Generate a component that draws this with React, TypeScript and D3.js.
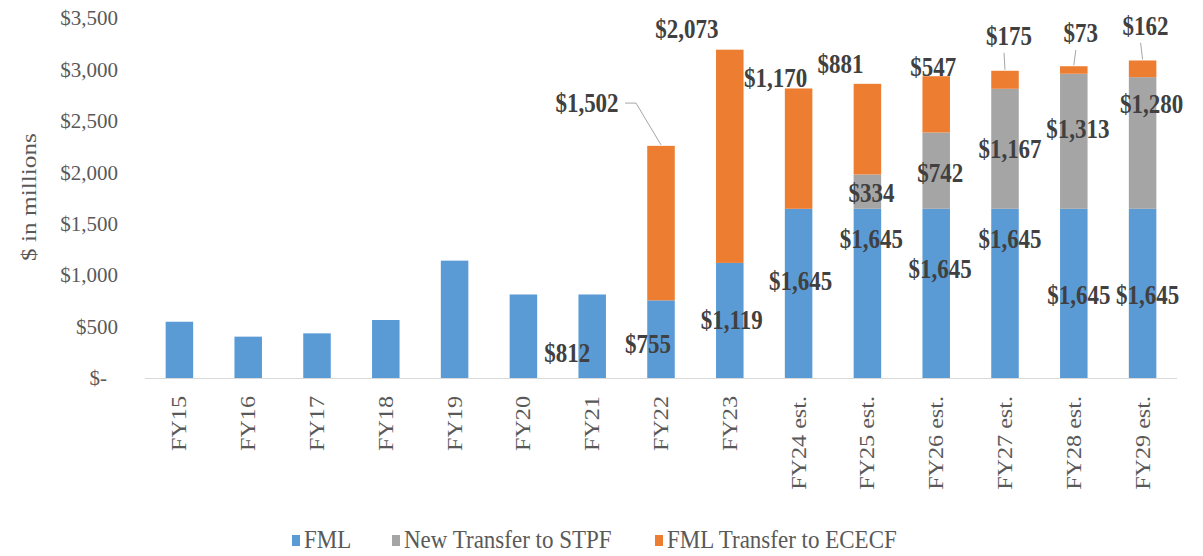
import React from "react";
import * as d3 from "d3";

// fiscal years on the x axis
const years = ["FY15", "FY16", "FY17", "FY18", "FY19", "FY20", "FY21", "FY22", "FY23",
  "FY24 est.", "FY25 est.", "FY26 est.", "FY27 est.", "FY28 est.", "FY29 est."];

// $ in millions
const fml = [547, 402, 434, 564, 1141, 812, 812, 755, 1119, 1645, 1645, 1645, 1645, 1645, 1645];
const stpf = [0, 0, 0, 0, 0, 0, 0, 0, 0, 0, 334, 742, 1167, 1313, 1280];
const ececf = [0, 0, 0, 0, 0, 0, 0, 1502, 2073, 1170, 881, 547, 175, 73, 162];

const yTicks = [0, 500, 1000, 1500, 2000, 2500, 3000, 3500];
const seriesNames = ["FML", "New Transfer to STPF", "FML Transfer to ECECF"];

// where the data labels were dragged to (px from the segment middle), null = no label
const fmlLabelPos = [null, null, null, null, null, null, [-25, 26], [-13, 14], [2, 9], [2, -3], [4, -45], [4, -15], [5, -45], [5, 11], [5, 11]];
const stpfLabelPos = [null, null, null, null, null, null, null, null, null, null, [4, 10], [4, 11], [5, 9], [4, -3], [9, -30]];
const ececfLabelPos = [null, null, null, null, null, null, null, [-74, -111], [-43, -118], [-23, -62], [-27, -56], [-3, -28], [4, -35], [7, -28], [3, -34]];
// leader lines: "elbow" from the side, "down" from under the label
const ececfLeader = [null, null, null, null, null, null, null, "elbow", null, null, null, null, "down", "down", "down"];

const colors = ["#5B9BD5", "#A5A5A5", "#ED7D31"];
const W = 1203, H = 556;
const FONT = "'Liberation Serif', 'Times New Roman', serif";
const STRETCH = "scale(1,1.15)";

const fmtMoney = (v: number) => (v === 0 ? "$-" : "$" + d3.format(",")(v));

export default function App() {
  const x = d3.scaleBand<string>().domain(years).range([145, 1177]).paddingInner(0.6).paddingOuter(0.3);
  const y = d3.scaleLinear().domain([0, 3500]).range([378, 18]);

  const rows = years.map((yr, i) => ({ yr, fml: fml[i], stpf: stpf[i], ececf: ececf[i] }));
  const stack = d3.stack<any>().keys(["fml", "stpf", "ececf"]);
  const layers = stack(rows);
  const labelPos = [fmlLabelPos, stpfLabelPos, ececfLabelPos];
  const bw = x.bandwidth();

  const legendX = [292, 392, 655];

  return (
    <svg width={W} height={H} style={{ position: "absolute", left: 0, top: 0, background: "#fff" }} fontFamily={FONT}>
      {/* y axis labels */}
      {yTicks.map(t => (
        <text key={t} x={t === 0 ? 107 : 118} y={y(t)} dy="0.35em" textAnchor="end" fontSize={21} fill="#595959">
          {fmtMoney(t)}
        </text>
      ))}
      <text transform={`translate(36,197) ${STRETCH} rotate(-90)`} textAnchor="middle" fontSize={22} fill="#595959">
        $ in millions
      </text>

      {/* bars */}
      {layers.map((layer, k) => (
        <g key={k} fill={colors[k]}>
          {layer.map((d, i) => {
            const h = y(d[0]) - y(d[1]);
            if (h <= 0) return null;
            return <rect key={i} x={x(years[i])} y={y(d[1])} width={bw} height={h} />;
          })}
        </g>
      ))}

      {/* x axis */}
      <line x1={145} x2={1177} y1={y(0) + 0.5} y2={y(0) + 0.5} stroke="#D9D9D9" strokeWidth={1} />
      {years.map(yr => (
        <text key={yr} transform={`translate(${x(yr)! + bw / 2},396) ${STRETCH} rotate(-90)`} textAnchor="end" dy="0.33em" fontSize={21} fill="#595959">
          {yr}
        </text>
      ))}

      {/* leader lines */}
      {layers[2].map((d, i) => {
        const kind = ececfLeader[i];
        const pos = ececfLabelPos[i];
        if (!kind || !pos) return null;
        const cx = x(years[i])! + bw / 2;
        const mid = y((d[0] + d[1]) / 2);
        const lx = cx + pos[0];
        const ly = mid + pos[1];
        const top = y(d[1]);
        if (kind === "elbow") {
          return <polyline key={i} points={`${lx + 38},${ly - 9} ${lx + 49},${ly - 9} ${cx},${top - 1}`} fill="none" stroke="#A6A6A6" strokeWidth={1} />;
        }
        return <line key={i} x1={lx - 5} y1={ly + 8} x2={cx} y2={top - 1} stroke="#A6A6A6" strokeWidth={1} />;
      })}

      {/* data labels */}
      {layers.map((layer, k) => (
        <g key={k}>
          {layer.map((d, i) => {
            const pos = labelPos[k][i];
            if (!pos) return null;
            const cx = x(years[i])! + bw / 2 + pos[0];
            const cy = y((d[0] + d[1]) / 2) + pos[1];
            return (
              <text key={i} transform={`translate(${cx},${cy}) ${STRETCH}`} textAnchor="middle" fontSize={23} fontWeight="bold" fill="#404040">
                {fmtMoney(d[1] - d[0])}
              </text>
            );
          })}
        </g>
      ))}

      {/* legend */}
      {seriesNames.map((s, k) => (
        <g key={s} transform={`translate(${legendX[k]},541)`}>
          <rect x={0} y={-6} width={8} height={11} fill={colors[k]} />
          <text x={12} y={7} fontSize={23} fill="#595959" transform="scale(1,1.05)">{s}</text>
        </g>
      ))}
    </svg>
  );
}
